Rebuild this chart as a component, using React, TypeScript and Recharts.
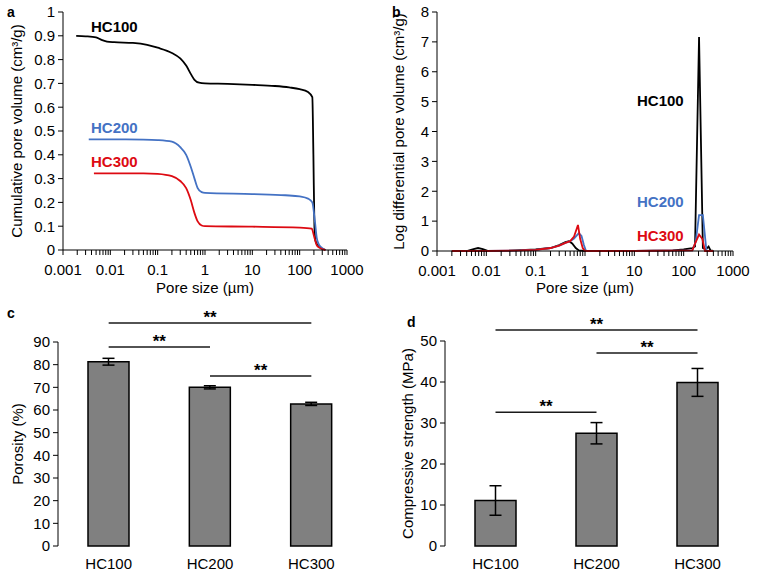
import React from 'react';
import { LineChart, Line, XAxis, YAxis, BarChart, Bar, ErrorBar, ReferenceLine } from 'recharts';

const FONT = '"Liberation Sans", Arial, sans-serif';
const BLACK = '#000000';
const BLUE = '#4472C4';
const RED = '#DD0A12';
const BAR_FILL = '#808080';

// pore size axis (log), decade labels + minor ticks
const decades = [0.001, 0.01, 0.1, 1, 10, 100, 1000];
const minorSteps = [1, 2, 3, 4, 5, 6, 7, 8, 9];
const logTicks = [...decades.slice(0, -1).flatMap((d) => minorSteps.map((k) => d * k)), 1000];

// panel a: cumulative pore volume (cm3/g)
const cumSize100 = [0.0019, 0.003, 0.005, 0.0065, 0.0085, 0.012, 0.03, 0.06, 0.1, 0.2, 0.3, 0.4, 0.5, 0.6, 0.75, 1, 3, 10, 30, 60, 100, 150, 185, 195, 205, 215, 250, 350];
const cumVol100 = [0.9, 0.898, 0.893, 0.883, 0.876, 0.873, 0.87, 0.862, 0.85, 0.828, 0.805, 0.775, 0.74, 0.715, 0.703, 0.7, 0.698, 0.694, 0.689, 0.683, 0.676, 0.664, 0.642, 0.4, 0.1, 0.04, 0.015, 0];
const cumSize200 = [0.0035, 0.01, 0.05, 0.1, 0.2, 0.3, 0.4, 0.5, 0.6, 0.7, 0.85, 1, 10, 50, 100, 150, 185, 210, 230, 260, 300, 350];
const cumVol200 = [0.465, 0.465, 0.464, 0.462, 0.455, 0.432, 0.4, 0.35, 0.3, 0.26, 0.243, 0.24, 0.235, 0.23, 0.225, 0.216, 0.2, 0.12, 0.05, 0.02, 0.008, 0];
const cumSize300 = [0.0045, 0.01, 0.05, 0.1, 0.2, 0.3, 0.4, 0.5, 0.6, 0.7, 0.85, 1, 10, 100, 180, 200, 230, 260, 350];
const cumVol300 = [0.322, 0.322, 0.322, 0.32, 0.31, 0.29, 0.26, 0.21, 0.155, 0.12, 0.103, 0.1, 0.098, 0.094, 0.09, 0.06, 0.02, 0.01, 0];
const cumTicks = [0, 0.1, 0.2, 0.3, 0.4, 0.5, 0.6, 0.7, 0.8, 0.9, 1];

// panel b: log differential pore volume (cm3/g)
const difSize100 = [0.002, 0.004, 0.0055, 0.0068, 0.0085, 0.011, 0.03, 0.05, 0.1, 0.2, 0.3, 0.4, 0.47, 0.55, 0.65, 0.75, 1, 10, 60, 100, 150, 170, 205, 245, 280, 320, 350, 400];
const difVol100 = [0, 0, 0.06, 0.1, 0.06, 0, 0.01, 0.03, 0.05, 0.1, 0.2, 0.3, 0.33, 0.25, 0.1, 0.02, 0, 0, 0.02, 0.05, 0.1, 0.15, 7.16, 0.1, 0.05, 0.15, 0.02, 0];
const difSize200 = [0.002, 0.01, 0.05, 0.1, 0.2, 0.3, 0.4, 0.5, 0.6, 0.75, 0.85, 0.95, 1.05, 10, 150, 175, 205, 245, 290, 400];
const difVol200 = [0, 0, 0.02, 0.04, 0.1, 0.18, 0.27, 0.33, 0.42, 0.6, 0.5, 0.2, 0, 0, 0.02, 0.3, 1.2, 1.2, 0, 0];
const difSize300 = [0.002, 0.01, 0.05, 0.1, 0.2, 0.3, 0.4, 0.5, 0.6, 0.72, 0.8, 0.9, 1, 10, 150, 165, 205, 240, 270, 400];
const difVol300 = [0, 0, 0.02, 0.04, 0.1, 0.18, 0.27, 0.33, 0.48, 0.87, 0.4, 0.1, 0, 0, 0.02, 0.2, 0.55, 0.4, 0, 0];
const difTicks = [0, 1, 2, 3, 4, 5, 6, 7, 8];

// panels c, d
const samples = ['HC100', 'HC200', 'HC300'];
const porosity = [81.3, 70.0, 62.7];
const porosityErr = [1.5, 0.7, 0.7];
const strength = [11.1, 27.5, 39.9];
const strengthErr = [3.6, 2.6, 3.4];
const porosityTicks = [0, 10, 20, 30, 40, 50, 60, 70, 80, 90];
const strengthTicks = [0, 10, 20, 30, 40, 50];
// significance brackets: [from, to, height in axis units]
const porositySig: [string, string, number][] = [['HC100', 'HC300', 98.4], ['HC100', 'HC200', 87.8], ['HC200', 'HC300', 75.0]];
const strengthSig: [string, string, number][] = [['HC100', 'HC300', 52.7], ['HC200', 'HC300', 47.1], ['HC100', 'HC200', 32.6]];

const zip = (xs: number[], ys: number[]) => xs.map((x, i) => ({ x, y: ys[i] }));
const toBars = (vals: number[], errs: number[]) => samples.map((name, i) => ({ name, value: vals[i], err: errs[i] }));

const tickStyle = { fill: BLACK, fontSize: 15, fontFamily: FONT };
const titleStyle = { fill: BLACK, fontSize: 15, fontFamily: FONT, textAnchor: 'middle' as const };

const fmtLog = (v: number) => {
  const d = decades.find((t) => Math.abs(t - v) / t < 1e-6);
  return d === undefined ? '' : String(d);
};

function Tag({ text, x, y, color = BLACK, size = 15 }: { text: string; x: number; y: number; color?: string; size?: number }) {
  return (
    <div style={{ position: 'absolute', left: x, top: y, color, fontSize: size, fontWeight: 'bold', fontFamily: FONT, lineHeight: 1, whiteSpace: 'nowrap' }}>
      {text}
    </div>
  );
}

function PoreChart({ series, yTicks, yFmt, title, width, yWidth, right, xHeight, titleOffset }: any) {
  return (
    <LineChart width={width} height={300} margin={{ top: 12, right, left: 0, bottom: 0 }}>
      <XAxis
        type="number"
        dataKey="x"
        scale="log"
        domain={[0.001, 1000]}
        allowDataOverflow
        ticks={logTicks}
        interval={0}
        tickFormatter={fmtLog}
        tickSize={5}
        tickMargin={9}
        height={xHeight}
        stroke={BLACK}
        tick={tickStyle}
        label={{ value: 'Pore size (µm)', position: 'insideBottom', offset: 7, style: titleStyle }}
      />
      <YAxis
        type="number"
        domain={[yTicks[0], yTicks[yTicks.length - 1]]}
        ticks={yTicks}
        interval={0}
        tickFormatter={yFmt}
        width={yWidth}
        tickSize={5}
        tickMargin={3}
        stroke={BLACK}
        tick={tickStyle}
        label={{ value: title, angle: -90, position: 'insideLeft', offset: titleOffset, style: titleStyle }}
      />
      {series.map((s: any) => (
        <Line
          key={s.name}
          data={s.data}
          dataKey="y"
          type={s.curve}
          stroke={s.color}
          strokeWidth={1.8}
          dot={false}
          isAnimationActive={false}
        />
      ))}
    </LineChart>
  );
}

function SigBarChart({ data, ticks, sig, title, width, yWidth, top, right, titleOffset }: any) {
  return (
    <BarChart width={width} height={286} data={data} margin={{ top, right, left: 0, bottom: 0 }}>
      <XAxis
        xAxisId="frame"
        type="number"
        domain={[0, samples.length]}
        allowDataOverflow
        ticks={[0, 1, 2, 3]}
        tick={false}
        tickSize={5}
        height={0}
        stroke={BLACK}
      />
      <XAxis dataKey="name" axisLine={false} tickLine={false} tickSize={6} tickMargin={6} height={30} tick={tickStyle} />
      <YAxis
        type="number"
        domain={[ticks[0], ticks[ticks.length - 1]]}
        ticks={ticks}
        interval={0}
        width={yWidth}
        tickSize={5}
        tickMargin={3}
        stroke={BLACK}
        tick={tickStyle}
        label={{ value: title, angle: -90, position: 'insideLeft', offset: titleOffset, style: titleStyle }}
      />
      <Bar dataKey="value" fill={BAR_FILL} stroke={BLACK} strokeWidth={1.5} barSize={41} isAnimationActive={false}>
        <ErrorBar dataKey="err" width={6} stroke={BLACK} strokeWidth={1.5} direction="y" />
      </Bar>
      {sig.map(([from, to, h]: [string, string, number]) => (
        <ReferenceLine
          key={from + to}
          segment={[{ x: from, y: h }, { x: to, y: h }]}
          ifOverflow="visible"
          stroke="#1a1a1a"
          strokeWidth={1.5}
          label={{ value: '**', position: 'top', offset: 0, fill: BLACK, fontSize: 17, fontWeight: 'bold', fontFamily: FONT }}
        />
      ))}
    </BarChart>
  );
}

export default function App() {
  const cumSeries = [
    { name: 'HC100', data: zip(cumSize100, cumVol100), color: BLACK, curve: 'monotone' },
    { name: 'HC200', data: zip(cumSize200, cumVol200), color: BLUE, curve: 'monotone' },
    { name: 'HC300', data: zip(cumSize300, cumVol300), color: RED, curve: 'monotone' },
  ];
  const difSeries = [
    { name: 'HC100', data: zip(difSize100, difVol100), color: BLACK, curve: 'linear' },
    { name: 'HC200', data: zip(difSize200, difVol200), color: BLUE, curve: 'linear' },
    { name: 'HC300', data: zip(difSize300, difVol300), color: RED, curve: 'linear' },
  ];
  const fmtCum = (v: number) => (v === 0 || v === 1 ? String(v) : v.toFixed(1));

  return (
    <div style={{ position: 'absolute', left: 0, top: 0, width: 759, height: 576, background: '#fff', fontFamily: FONT, overflow: 'hidden' }}>
      <div style={{ position: 'absolute', left: 0, top: 0 }}>
        <PoreChart series={cumSeries} yTicks={cumTicks} yFmt={fmtCum} title="Cumulative pore volume (cm³/g)" width={380} yWidth={63} right={33} xHeight={50} titleOffset={17} />
      </div>
      <div style={{ position: 'absolute', left: 380, top: 0 }}>
        <PoreChart series={difSeries} yTicks={difTicks} yFmt={(v: number) => String(v)} title="Log differential pore volume (cm³/g)" width={379} yWidth={57} right={26} xHeight={49} titleOffset={19} />
      </div>
      <div style={{ position: 'absolute', left: 0, top: 290 }}>
        <SigBarChart data={toBars(porosity, porosityErr)} ticks={porosityTicks} sig={porositySig} title="Porosity (%)" width={380} yWidth={58} top={52} right={18} titleOffset={18} />
      </div>
      <div style={{ position: 'absolute', left: 380, top: 290 }}>
        <SigBarChart data={toBars(strength, strengthErr)} ticks={strengthTicks} sig={strengthSig} title="Compressive strength (MPa)" width={379} yWidth={65} top={51} right={11} titleOffset={28} />
      </div>

      <Tag text="a" x={7} y={5} size={14} />
      <Tag text="b" x={392} y={5} size={14} />
      <Tag text="c" x={7} y={306} size={14} />
      <Tag text="d" x={407} y={315} size={14} />

      <Tag text="HC100" x={91} y={19} />
      <Tag text="HC200" x={91} y={120} color={BLUE} />
      <Tag text="HC300" x={91} y={154} color={RED} />
      <Tag text="HC100" x={637} y={93} />
      <Tag text="HC200" x={637} y={194} color={BLUE} />
      <Tag text="HC300" x={637} y={228} color={RED} />
    </div>
  );
}
